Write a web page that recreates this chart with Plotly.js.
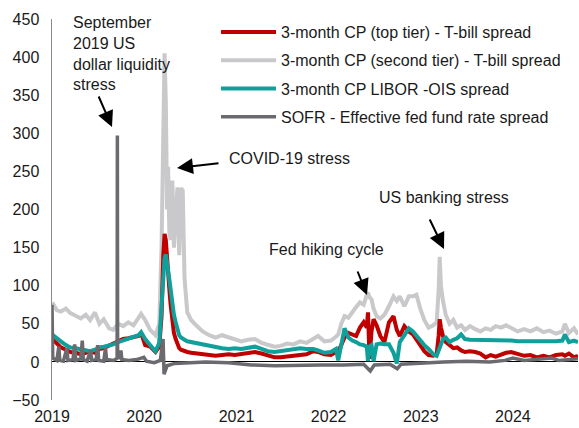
<!DOCTYPE html>
<html>
<head>
<meta charset="utf-8">
<script src="https://cdn.plot.ly/plotly-3.0.1.min.js"></script>
<style>html,body{margin:0;padding:0;background:#fff;}#chart{width:579px;height:428px;}</style>
</head>
<body>
<div id="chart"></div>
<script>
// Common dates for the three CP / LIBOR-OIS series
const dates = [
"2019-01-02","2019-01-20","2019-02-05","2019-02-25","2019-03-15","2019-04-05","2019-04-25","2019-05-15","2019-06-01","2019-06-20",
"2019-07-08","2019-07-25","2019-08-15","2019-09-01","2019-09-20","2019-10-10","2019-10-30","2019-11-20","2019-12-10","2019-12-20",
"2020-01-05","2020-01-25","2020-02-15","2020-03-01","2020-03-10","2020-03-17","2020-03-22","2020-03-27","2020-04-01","2020-04-05",
"2020-04-10","2020-04-15","2020-04-22","2020-04-28","2020-05-05","2020-05-12","2020-05-19","2020-05-26","2020-06-02","2020-06-09",
"2020-06-20","2020-07-05","2020-07-25","2020-08-20","2020-09-15","2020-10-10","2020-11-05","2020-12-01","2020-12-25",
"2021-01-20","2021-02-15","2021-03-15","2021-04-10","2021-05-05","2021-06-01","2021-06-25","2021-07-20","2021-08-15","2021-09-10",
"2021-10-05","2021-11-01","2021-11-20","2021-12-15",
"2022-01-10","2022-01-30","2022-02-08","2022-02-20","2022-03-05","2022-03-20","2022-04-05","2022-04-20","2022-05-05","2022-05-20",
"2022-06-01","2022-06-06","2022-06-12","2022-06-20","2022-06-28","2022-07-10","2022-07-25","2022-08-10","2022-08-28","2022-09-15",
"2022-09-28","2022-10-10","2022-10-28","2022-11-15","2022-12-01","2022-12-15","2022-12-30",
"2023-01-15","2023-02-01","2023-02-20","2023-03-05","2023-03-13","2023-03-17","2023-03-22","2023-03-30","2023-04-10","2023-04-25",
"2023-05-10","2023-05-25","2023-06-10","2023-06-25","2023-07-15","2023-08-05","2023-08-25","2023-09-15","2023-10-05","2023-10-25",
"2023-11-15","2023-12-05","2023-12-25",
"2024-01-20","2024-02-15","2024-03-10","2024-04-05","2024-05-01","2024-05-25","2024-06-20","2024-07-15","2024-07-25","2024-08-10",
"2024-08-30","2024-09-15"
];
// 3-month CP (top tier) - T-bill spread (bp)
const cpTopTier = [
30,24,19,16,13,12,10,12,14,12,
17,18,21,24,27,30,31,33,34,38,
22,20,13,20,60,140,168,160,130,110,
95,75,50,38,30,24,18,16,15,14,
13,12,11,10,9,8,9,10,9,
10,12,13,11,8,6,6,7,8,9,
10,14,13,10,
9,13,14,22,32,38,36,34,45,52,
45,65,4,40,56,48,34,26,52,60,
42,34,47,40,36,30,22,
14,9,8,10,35,56,45,34,26,22,
18,19,15,13,14,13,11,6,9,7,
10,12,13,
10,8,9,6,8,6,9,10,8,11,
6,8
];
// 3-month CP (second tier) - T-bill spread (bp)
const cpSecondTier = [
78,68,66,70,64,60,57,62,55,65,
50,56,44,42,50,47,52,48,58,63,
55,42,35,50,150,320,405,340,200,256,
170,160,238,150,200,229,140,228,225,110,
65,55,48,40,35,32,35,32,30,
27,29,30,25,22,20,21,24,23,27,
25,30,34,27,
28,33,36,50,60,58,66,72,78,75,
88,91,85,82,70,60,57,62,73,86,
80,86,73,86,86,88,70,
55,45,48,52,95,138,100,80,62,50,
55,45,48,42,47,43,40,44,42,47,
45,48,44,
40,43,40,44,39,41,37,40,50,38,
44,36
];
// 3-month CP LIBOR - OIS spread (bp)
const liborOis = [
36,32,27,22,19,18,17,15,14,16,
19,20,21,23,26,28,31,32,35,39,
30,22,14,25,70,120,136,141,132,120,
108,95,75,62,52,42,35,32,30,29,
27,26,24,23,21,19,18,17,18,
17,19,20,17,14,13,14,15,17,18,
17,17,15,12,
13,17,2,20,44,32,28,26,23,22,
20,1,20,22,1,23,24,23,23,12,
-2,26,34,44,40,34,28,
22,17,10,8,15,19,25,30,32,26,
29,31,36,30,29,29,29,28,29,28,
28,28,28,
27,27,26,27,27,26,27,28,36,26,
28,26
];
// SOFR - Effective fed fund rate spread (bp)
const sofrDates = [
"2019-01-01","2019-01-04","2019-01-20","2019-01-28","2019-02-01","2019-02-15","2019-03-01","2019-03-05","2019-03-25","2019-04-01",
"2019-04-05","2019-04-25","2019-05-01","2019-05-05","2019-05-20","2019-06-03","2019-06-07","2019-06-25","2019-07-01","2019-07-05",
"2019-07-25","2019-08-01","2019-08-05","2019-09-03","2019-09-16","2019-09-17","2019-09-18","2019-09-25","2019-10-01","2019-10-05",
"2019-11-01","2019-12-02","2019-12-31","2020-01-10","2020-02-10","2020-03-05","2020-03-16","2020-03-20","2020-04-01","2020-05-01",
"2020-07-01","2020-09-01","2020-12-01","2021-03-01","2021-06-01","2021-09-01","2021-12-01","2022-03-01","2022-05-20","2022-06-15",
"2022-07-01","2022-09-01","2022-09-30","2022-10-15","2022-12-01","2023-01-01","2023-04-01","2023-07-01","2023-10-01","2023-12-01",
"2024-01-01","2024-02-15","2024-04-01","2024-06-03","2024-07-01","2024-09-15"
];
const sofrEffr = [
75,5,2,20,2,1,18,2,3,23,
2,4,28,3,1,15,2,3,22,2,
1,18,3,2,5,297,10,4,15,3,
2,3,6,1,-1,2,30,-16,-5,-2,
-1,0,-1,-4,-5,-4,-4,-4,-3,-12,
-4,-3,-9,-3,-2,-1,0,1,0,2,
5,2,3,5,2,4
];
const yTicks = [-50,0,50,100,150,200,250,300,350,400,450];
const seriesNames = [
"3-month CP (top tier) - T-bill spread",
"3-month CP (second tier) - T-bill spread",
"3-month CP LIBOR -OIS spread",
"SOFR - Effective fed fund rate spread"
];

const FONT = "Liberation Sans, Arial, sans-serif";
const W = 526, H = 381, L = 52, T = 19;
const px = v => (v - L) / W;
const py = v => (T + H - v) / H;

const traces = [
  {x: dates, y: cpSecondTier, name: seriesNames[1], legendrank: 2, legendgroup: "b", mode: "lines",
   line: {color: "#C9C9CB", width: 4}},
  {x: dates, y: cpTopTier, name: seriesNames[0], legendrank: 1, legendgroup: "a", mode: "lines",
   line: {color: "#C00000", width: 4}},
  {x: dates, y: liborOis, name: seriesNames[2], legendrank: 3, legendgroup: "c", mode: "lines",
   line: {color: "#0FA09C", width: 4}},
  {x: sofrDates, y: sofrEffr, name: seriesNames[3], legendrank: 4, legendgroup: "d", mode: "lines",
   line: {color: "#6A6A6F", width: 3.5}}
];

const annText = {font: {family: FONT, size: 16, color: "#1a1a1a"}, showarrow: false, xref: "paper", yref: "paper"};
const arrow = (tipX, tipY, tailX, tailY) => ({
  xref: "paper", yref: "paper", x: px(tipX), y: py(tipY), ax: tailX - tipX, ay: tailY - tipY,
  axref: "pixel", ayref: "pixel", text: "", showarrow: true, arrowhead: 2, arrowsize: 1.6, arrowwidth: 2, arrowcolor: "#000"
});

const layout = {
  width: 579, height: 428,
  margin: {l: L, r: 579 - L - W, t: T, b: 428 - T - H, pad: 0},
  paper_bgcolor: "#fff", plot_bgcolor: "#fff",
  font: {family: FONT, size: 16, color: "#1a1a1a"},
  showlegend: true,
  legend: {x: px(216), y: py(15), xanchor: "left", yanchor: "top", bgcolor: "rgba(0,0,0,0)",
           font: {family: FONT, size: 16, color: "#1a1a1a"}, tracegroupgap: 4.5, itemwidth: 55,
           traceorder: "grouped"},
  xaxis: {type: "date", range: ["2019-01-01", "2024-09-15"], tickformat: "%Y", dtick: "M12", tick0: "2019-01-01",
          showgrid: false, zeroline: false, showline: false, ticks: "", tickfont: {size: 16}, ticklabelstandoff: 5},
  yaxis: {range: [-50, 450], tickvals: yTicks, showgrid: false, zeroline: true, zerolinecolor: "#000", zerolinewidth: 1,
          showline: true, linecolor: "#8a8a8a", linewidth: 1.5, ticks: "", tickfont: {size: 16}, ticklabelstandoff: 8},
  annotations: [
    Object.assign({x: px(71), y: py(12), xanchor: "left", yanchor: "top", align: "left",
      text: "September<br>2019 US<br>dollar liquidity<br>stress"}, annText),
    Object.assign({x: px(227), y: py(158), xanchor: "left", yanchor: "middle", text: "COVID-19 stress"}, annText),
    Object.assign({x: px(267), y: py(249), xanchor: "left", yanchor: "middle", text: "Fed hiking cycle"}, annText),
    Object.assign({x: px(377), y: py(197), xanchor: "left", yanchor: "middle", text: "US banking stress"}, annText),
    arrow(112, 127, 98, 95),
    arrow(177, 168, 220, 163),
    arrow(367, 295, 357, 270),
    arrow(444, 249, 429, 218)
  ]
};

Plotly.newPlot("chart", traces, layout, {staticPlot: true, displayModeBar: false});
</script>
</body>
</html>
